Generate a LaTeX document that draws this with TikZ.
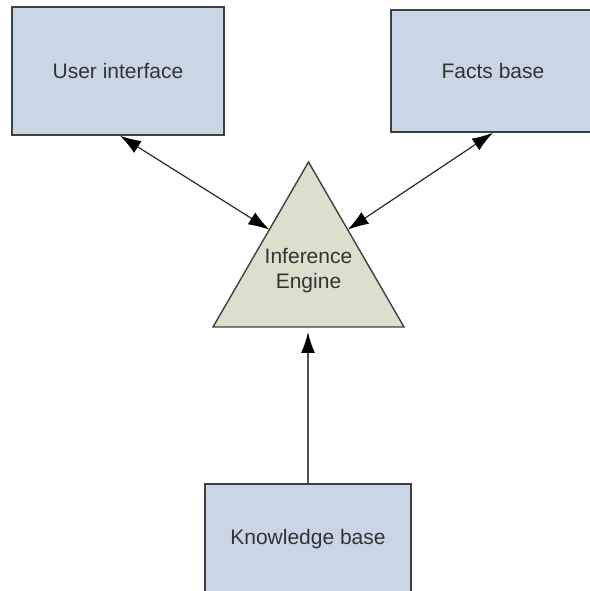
\documentclass[tikz,border=0pt]{standalone}
\usepackage{fontspec}
\setmainfont{Liberation Sans}
\usetikzlibrary{arrows.meta,calc}
\definecolor{boxfill}{HTML}{C9D6E6}
\definecolor{trifill}{HTML}{DCDFCB}
\definecolor{edge}{HTML}{404040}
\definecolor{txt}{HTML}{333333}
\definecolor{conn}{HTML}{2A2A2A}
\begin{document}
\begin{tikzpicture}[x=1pt,y=1pt,
  box/.style={draw=edge,line width=1.5pt,fill=boxfill,rectangle,inner sep=0pt,
    text=txt,font=\fontsize{21}{25}\selectfont},
  engineshape/.style={draw=edge,line width=1.4pt,fill=trifill,line join=miter},
  enginetext/.style={inner sep=0pt,text=txt,align=center,font=\fontsize{21}{25}\selectfont},
  link/.style={draw=conn,line width=1.2pt,{Latex[length=21pt,width=14pt,color=black]}-{Latex[length=21pt,width=14pt,color=black]}},
  uplink/.style={draw=edge!90,line width=1.6pt,-{Latex[length=21pt,width=14pt,color=black]}}]
\useasboundingbox (0,0) rectangle (589,591);
\node[box,minimum width=212pt,minimum height=128pt] (ui) at (118,520) {User interface};
\node[box,minimum width=204pt,minimum height=122pt] (facts) at (493,520) {Facts base};
\node[box,minimum width=206pt,minimum height=110pt] (kb) at (308,52) {Knowledge base};
\coordinate (ieTop) at (308.5,429);
\coordinate (ieLeft) at (213,264);
\coordinate (ieRight) at (404,264);
\draw[engineshape] (ieTop) -- (ieLeft) -- (ieRight) -- cycle;
\node[enginetext] (ie) at (308.5,320) {Inference\\Engine};
\coordinate (ieL) at ($(ieTop)!0.41!(ieLeft)$);
\coordinate (ieR) at ($(ieTop)!0.41!(ieRight)$);
\coordinate (ieB) at (308,259);
\draw[link] ([xshift=2pt]ui.south) -- (ieL);
\draw[link] (facts.south) -- (ieR);
\draw[uplink] (kb.north) -- (kb.north |- ieB);
\end{tikzpicture}
\end{document}
